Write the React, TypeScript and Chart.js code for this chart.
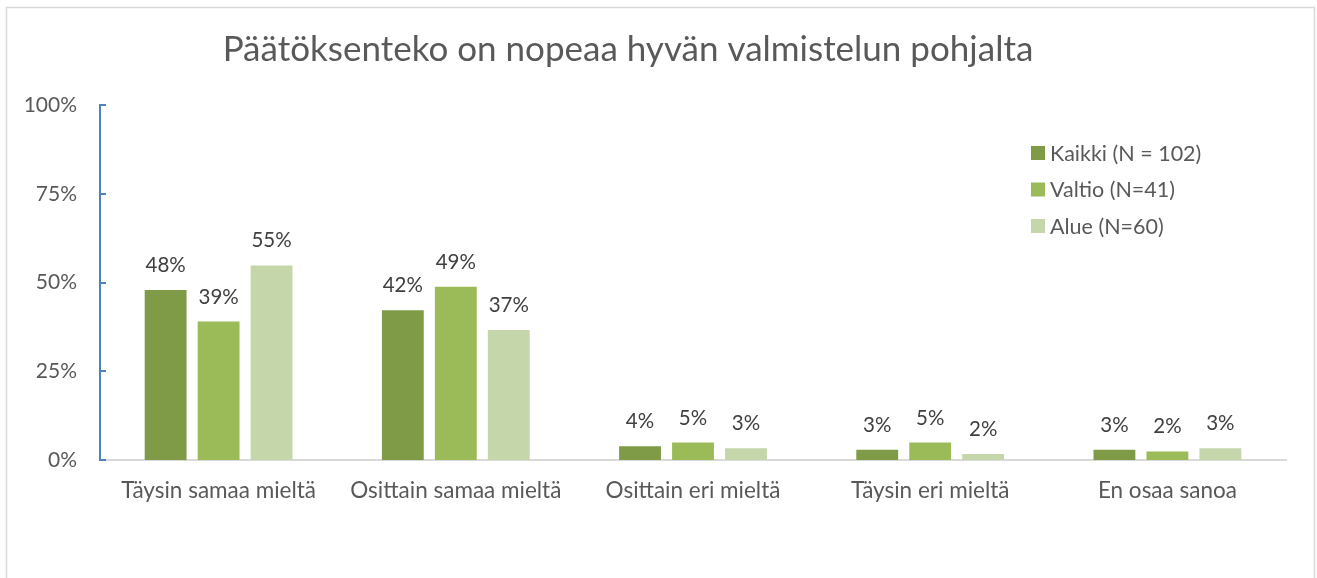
import React, { useEffect, useRef } from "react";
import { Chart, registerables } from "chart.js";

Chart.register(...registerables);

const TITLE = "Päätöksenteko on nopeaa hyvän valmistelun pohjalta";
const categories = [
  "Täysin samaa mieltä",
  "Osittain samaa mieltä",
  "Osittain eri mieltä",
  "Täysin eri mieltä",
  "En osaa sanoa",
];
const seriesNames = ["Kaikki (N = 102)", "Valtio (N=41)", "Alue (N=60)"];
const kaikki = [47.9, 42.2, 3.9, 2.9, 2.9];
const valtio = [39.0, 48.8, 4.9, 4.9, 2.4];
const alue = [54.8, 36.6, 3.3, 1.7, 3.3];
const colors = ["#7F9B48", "#9BBB59", "#C5D6AA"];
const yTicks = [0, 25, 50, 75, 100];

const FONT = "Lato, 'Open Sans', sans-serif";

const framePlugin = {
  id: "frame",
  beforeDraw(chart: any) {
    const ctx = chart.ctx;
    ctx.save();
    ctx.fillStyle = "#ffffff";
    ctx.fillRect(0, 0, chart.width, chart.height);
    ctx.strokeStyle = "#d9d9d9";
    ctx.lineWidth = 1.5;
    ctx.strokeRect(6.5, 7.5, 1308, 620);
    ctx.restore();
  },
};

const titlePlugin = {
  id: "customTitle",
  afterDraw(chart: any) {
    const ctx = chart.ctx;
    ctx.save();
    ctx.font = `400 35px ${FONT}`;
    ctx.fillStyle = "#595959";
    ctx.textAlign = "center";
    ctx.textBaseline = "alphabetic";
    ctx.fillText(TITLE, 628, 61);
    ctx.restore();
  },
};

const yTickMarks = {
  id: "yTickMarks",
  afterDraw(chart: any) {
    const ctx = chart.ctx;
    const y = chart.scales.y;
    ctx.save();
    ctx.strokeStyle = "#4F81BD";
    ctx.lineWidth = 2;
    y.ticks.forEach((t: any) => {
      const py = Math.round(y.getPixelForValue(t.value));
      ctx.beginPath();
      ctx.moveTo(y.right, py);
      ctx.lineTo(y.right + 6, py);
      ctx.stroke();
    });
    ctx.restore();
  },
};

const dataLabels = {
  id: "dataLabels",
  afterDatasetsDraw(chart: any) {
    const ctx = chart.ctx;
    ctx.save();
    ctx.font = `20.5px ${FONT}`;
    ctx.fillStyle = "#404040";
    ctx.textAlign = "center";
    ctx.textBaseline = "alphabetic";
    chart.data.datasets.forEach((ds: any, i: number) => {
      const meta = chart.getDatasetMeta(i);
      meta.data.forEach((el: any, j: number) => {
        ctx.fillText(Math.round(ds.data[j]) + "%", el.x, el.y - 18);
      });
    });
    ctx.restore();
  },
};

const legendPlugin = {
  id: "customLegend",
  afterDraw(chart: any) {
    const ctx = chart.ctx;
    ctx.save();
    ctx.font = `21.5px ${FONT}`;
    ctx.textAlign = "left";
    ctx.textBaseline = "middle";
    chart.data.datasets.forEach((ds: any, i: number) => {
      const cy = 153 + i * 36.5;
      ctx.fillStyle = ds.backgroundColor;
      ctx.fillRect(1031, cy - 7, 14, 14);
      ctx.fillStyle = "#595959";
      ctx.fillText(ds.label, 1050, cy + 1);
    });
    ctx.restore();
  },
};

export default function App() {
  const ref = useRef<HTMLCanvasElement | null>(null);
  useEffect(() => {
    if (!ref.current) return;
    const chart = new Chart(ref.current, {
      type: "bar",
      data: {
        labels: categories,
        datasets: [kaikki, valtio, alue].map((d, i) => ({
          label: seriesNames[i],
          data: d,
          backgroundColor: colors[i],
          borderWidth: 0,
          barPercentage: 0.79,
          categoryPercentage: 0.67,
        })),
      },
      options: {
        responsive: false,
        animation: false,
        devicePixelRatio: 1,
        layout: { padding: { left: 0, top: 105, right: 31, bottom: 0 } },
        plugins: {
          legend: { display: false },
          title: { display: false },
          tooltip: { enabled: false },
        },
        scales: {
          x: {
            grid: { display: false, drawTicks: false },
            border: { display: true, color: "#d9d9d9", width: 2 },
            ticks: {
              color: "#595959",
              font: { family: FONT, size: 22.5 },
              padding: 17,
              maxRotation: 0,
              autoSkip: false,
            },
            afterFit(scale: any) {
              scale.height = 118;
            },
          },
          y: {
            min: 0,
            max: 100,
            afterBuildTicks(scale: any) {
              scale.ticks = yTicks.map((v) => ({ value: v }));
            },
            grid: { display: false, drawTicks: false },
            border: { display: true, color: "#4F81BD", width: 2 },
            ticks: {
              color: "#595959",
              font: { family: FONT, size: 21 },
              padding: 23,
              callback: (v: any) => v + "%",
            },
            afterFit(scale: any) {
              scale.width = 100;
            },
          },
        },
      },
      plugins: [framePlugin, yTickMarks, dataLabels, legendPlugin, titlePlugin],
    });
    return () => chart.destroy();
  }, []);
  return (
    <div style={{ position: "fixed", left: 0, top: 0, width: 1317, height: 578 }}>
      <canvas ref={ref} width={1317} height={578} style={{ display: "block" }} />
    </div>
  );
}
